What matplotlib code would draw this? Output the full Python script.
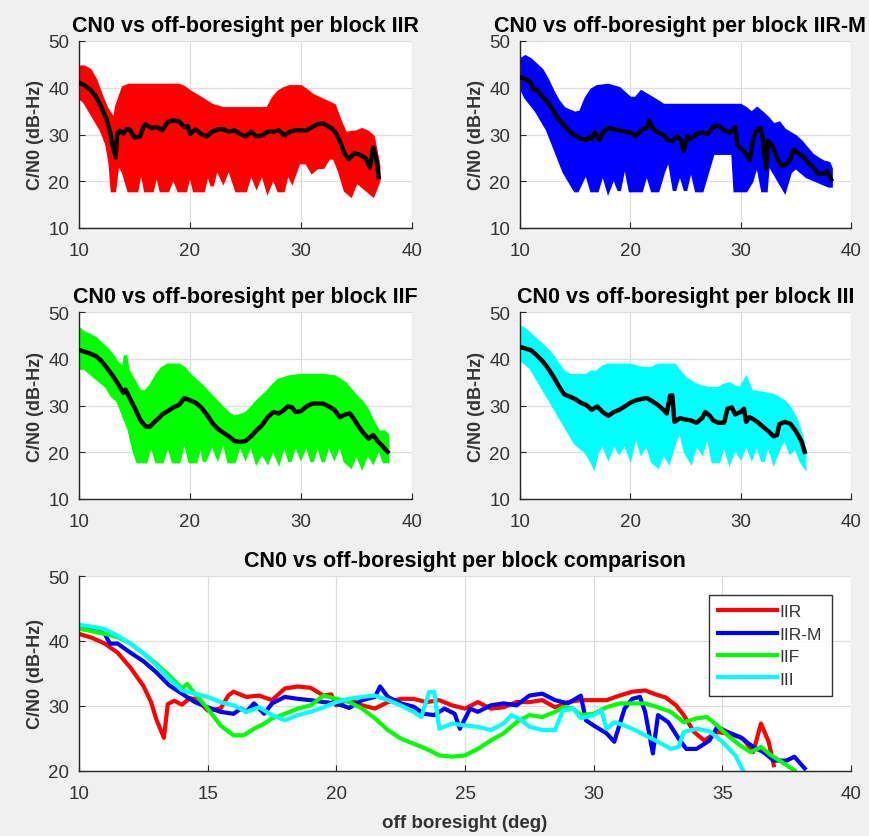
import matplotlib
matplotlib.use("Agg")
import matplotlib.pyplot as plt
import numpy as np

plt.rcParams['font.family'] = ['Liberation Sans', 'DejaVu Sans']

# ---------------- data ----------------
blocks = ["IIR", "IIR-M", "IIF", "III"]
colors = ["#ff0000", "#0000ff", "#00ff00", "#00ffff"]

# mean C/N0 curves (black lines / comparison lines)
iir_x = [10.0, 10.5, 11.0, 11.5, 12.0, 12.5, 12.8, 13.0, 13.3, 13.45, 13.7, 14.0, 14.3, 14.6, 15.0, 15.5, 15.8, 16.0, 16.5, 17.0,
         17.5, 18.0, 18.5, 19.0, 19.5, 19.8, 20.0, 20.5, 21.0, 21.5, 22.0, 22.5, 23.0, 23.5, 24.0, 24.5, 25.0, 25.5, 26.0, 26.5,
         27.0, 27.5, 28.0, 28.5, 29.0, 29.5, 30.0, 30.5, 31.0, 31.5, 32.0, 32.4, 32.8, 33.2, 33.5, 33.9, 34.3, 34.8, 35.3, 35.8,
         36.2, 36.5, 36.8, 37.0]
iir_y = [41.1, 40.5, 39.6, 38.2, 35.9, 33.1, 30.6, 28.0, 25.1, 30.3, 30.8, 30.2, 31.2, 31.0, 29.3, 29.6, 31.6, 32.2, 31.4, 31.6,
         30.9, 32.7, 33.0, 32.8, 31.6, 31.8, 30.1, 31.1, 30.1, 29.6, 30.6, 31.1, 31.1, 30.6, 30.9, 30.1, 29.6, 30.6, 29.6, 29.8,
         30.6, 30.6, 30.9, 29.8, 30.6, 30.9, 30.9, 30.9, 31.6, 32.2, 32.4, 31.8, 31.3, 30.1, 28.6, 26.0, 24.7, 26.0, 25.7, 25.0,
         22.9, 27.3, 24.5, 20.9]

iirm_x = [10.0, 10.5, 11.0, 11.2, 11.5, 12.0, 12.5, 13.0, 13.5, 14.0, 14.5, 15.0, 15.5, 16.0, 16.3, 16.5, 16.8, 17.2, 17.5, 18.0,
          18.5, 19.0, 19.5, 20.0, 20.5, 21.0, 21.5, 21.7, 22.0, 22.5, 23.0, 23.4, 23.8, 24.2, 24.6, 24.8, 25.2, 25.5, 26.0, 26.5,
          27.0, 27.5, 28.0, 28.5, 29.0, 29.5, 29.7, 30.0, 30.5, 30.8, 31.2, 31.5, 31.8, 32.0, 32.3, 32.5, 32.9, 33.3, 33.6, 34.0,
          34.5, 34.8, 35.2, 35.7, 36.2, 36.6, 37.0, 37.5, 37.8, 38.2]
iirm_y = [42.2, 41.9, 41.1, 39.6, 39.6, 38.2, 36.9, 35.2, 33.2, 31.9, 30.6, 29.8, 29.1, 28.8, 29.6, 29.1, 30.4, 28.8, 30.4, 31.4,
          31.1, 30.9, 30.6, 30.4, 29.7, 30.9, 31.4, 33.0, 31.4, 30.4, 29.9, 28.8, 28.6, 29.6, 28.8, 26.5, 29.6, 29.1, 30.1, 30.4,
          30.1, 31.6, 31.9, 30.9, 30.4, 31.6, 27.8, 27.0, 25.8, 24.5, 29.6, 31.1, 31.4, 29.1, 22.7, 28.6, 27.5, 25.0, 23.4, 23.4,
          24.7, 26.8, 26.0, 25.2, 23.7, 22.9, 21.6, 21.6, 22.2, 20.4]

iif_x = [10.0, 10.5, 11.0, 11.5, 12.0, 12.5, 13.0, 13.5, 14.0, 14.2, 14.5, 15.0, 15.5, 16.0, 16.4, 16.8, 17.2, 17.5, 18.0, 18.5,
         19.0, 19.5, 20.0, 20.5, 21.0, 21.5, 22.0, 22.5, 23.0, 23.5, 24.0, 24.5, 25.0, 25.5, 26.0, 26.5, 27.0, 27.5, 28.0, 28.5,
         28.8, 29.2, 29.5, 30.0, 30.5, 31.0, 31.5, 32.0, 32.5, 33.0, 33.5, 34.0, 34.4, 34.8, 35.2, 35.7, 36.1, 36.5, 36.9, 37.3,
         37.8]
iif_y = [41.9, 41.5, 41.1, 40.6, 39.6, 38.1, 36.5, 34.7, 32.7, 33.4, 31.9, 29.6, 27.0, 25.5, 25.5, 26.5, 27.3, 28.1, 28.8, 29.6,
         30.1, 31.6, 31.1, 30.6, 29.6, 28.1, 26.3, 25.0, 24.2, 23.4, 22.4, 22.2, 22.4, 23.4, 24.7, 25.8, 27.5, 28.6, 28.3, 29.1,
         29.8, 29.6, 28.6, 28.8, 29.8, 30.4, 30.4, 30.4, 29.8, 29.1, 27.5, 28.1, 28.3, 27.0, 25.5, 23.9, 22.9, 23.7, 22.4, 21.4,
         20.1]

iii_x = [10.0, 10.5, 11.0, 11.5, 12.0, 12.5, 13.0, 13.5, 14.0, 14.5, 15.0, 15.5, 16.0, 16.5, 17.0, 17.5, 18.0, 18.5, 19.0, 19.5,
         20.0, 20.5, 21.0, 21.5, 22.0, 22.5, 23.0, 23.3, 23.6, 23.8, 24.0, 24.5, 25.0, 25.5, 26.0, 26.5, 26.8, 27.2, 27.5, 28.0,
         28.5, 28.8, 29.2, 29.5, 30.0, 30.3, 30.5, 30.8, 31.2, 31.6, 32.0, 32.5, 33.0, 33.3, 33.5, 34.0, 34.5, 35.0, 35.5, 35.8]
iii_y = [42.5, 42.2, 41.8, 40.8, 39.6, 38.1, 36.3, 34.2, 32.4, 31.9, 31.4, 30.6, 30.1, 29.1, 29.8, 28.6, 27.8, 28.6, 29.1, 29.8,
         30.6, 31.1, 31.4, 31.6, 30.9, 30.1, 29.1, 28.3, 32.1, 32.2, 26.5, 27.3, 27.0, 26.8, 26.3, 27.3, 28.6, 27.8, 26.8, 26.3,
         26.3, 29.3, 29.6, 28.1, 28.6, 29.3, 26.5, 27.5, 27.0, 26.3, 25.5, 24.5, 23.4, 23.7, 26.0, 26.5, 26.1, 24.5, 22.4, 20.1]

# upper / lower edges of the per-sample scatter clouds
iir_up_x = [10, 10.5, 11, 11.5, 12, 12.5, 13, 13.2, 13.4, 13.7, 14.0, 14.5, 17, 18, 19, 19.5, 20, 21, 22, 23,
            27, 27.5, 28, 28.5, 29, 30, 30.5, 31, 32, 33, 33.5, 34, 35, 35.5, 36, 36.5, 37]
iir_up_y = [44.4, 44.4, 43.7, 41.6, 38.4, 35.5, 33.7, 33.0, 36.0, 38.0, 40.0, 40.5, 40.5, 40.5, 40.5, 40.0, 39.1, 37.7, 36.2, 35.5,
            35.5, 37.7, 39.1, 39.8, 40.2, 40.2, 39.4, 38.4, 37.3, 36.2, 33.0, 30.2, 30.5, 31.0, 30.5, 29.5, 23.4]
iir_lo_x = [10, 10.5, 11, 11.5, 12, 12.5, 12.8, 13.0, 13.2, 13.5, 14.0, 14.5, 15.2, 15.6, 16.0, 16.6, 17.0, 17.4, 18.0, 18.5,
            19.0, 19.6, 20.0, 20.4, 21.2, 21.6, 22.0, 22.4, 23.0, 23.5, 24.2, 25.0, 25.5, 26.0, 26.5, 27.0, 27.5, 28.0, 28.4, 28.8,
            29.2, 29.8, 30.5, 31.0, 31.5, 32.0, 32.5, 33.0, 33.5, 34.0, 34.5, 35.0, 35.5, 36.0, 36.5, 37.0]
iir_lo_y = [38, 37, 35, 33, 31, 28, 24, 18, 18, 24, 22, 18, 18, 23, 18, 18, 22, 18, 18, 21,
            18, 18, 22, 18, 18, 22, 19, 23, 20, 23, 18, 18, 22, 19, 22, 18, 21, 18, 18, 22,
            20, 24, 24, 22, 23, 23, 25, 25, 22, 18, 17, 20, 19, 18, 17, 20]

iirm_up_x = [10, 10.5, 11, 11.5, 12, 12.5, 13, 13.5, 14, 15, 15.5, 16, 16.5, 17, 18, 19, 20, 20.5, 21, 21.5,
             22, 22.5, 23, 30, 30.5, 31, 31.5, 32, 32.5, 33, 33.5, 34, 35, 35.5, 36, 36.5, 37, 37.5, 38, 38.2]
iirm_up_y = [45.9, 46.6, 45.9, 44.8, 43.7, 41.6, 39.1, 37.0, 35.5, 34.5, 34.8, 37.7, 39.5, 40.2, 40.5, 39.8, 37.7, 37.7, 39.1, 38.4,
             37.7, 37.0, 36.2, 36.2, 35.5, 34.5, 35.5, 34.5, 33.4, 32.0, 32.4, 30.9, 29.5, 28.4, 27.0, 25.6, 24.8, 24.1, 23.8, 22.7]
iirm_lo_x = [10, 10.5, 11, 11.5, 12, 12.5, 13, 13.5, 14, 14.5, 15, 15.2, 16, 16.5, 17, 17.5, 18, 18.5, 19, 19.5,
             20, 21, 21.5, 22, 22.5, 23, 23.5, 24, 24.5, 25, 25.5, 26, 26.5, 27, 27.5, 29.3, 29.5, 30.5, 31, 31.5,
             32, 32.3, 32.5, 33, 33.5, 34, 34.5, 35, 35.5, 36, 37, 38, 38.2]
iirm_lo_y = [40.5, 38, 36.5, 35, 33, 31, 28, 25, 22, 20, 18, 18, 22, 18, 18, 22, 18, 21, 18, 24,
             18, 18, 22, 18, 18, 22, 25, 18, 22, 18, 23, 18, 18, 22, 26, 26, 18, 18, 20, 24,
             18, 18, 24, 22, 20, 18, 22, 23, 22, 21, 20, 19, 19]

iif_up_x = [10, 10.5, 11, 11.5, 12, 12.5, 13, 13.5, 14, 14.2, 14.4, 15, 15.5, 16, 16.5, 17, 17.5, 18, 19, 19.5,
            20, 21, 22, 23, 23.5, 24, 24.5, 25, 25.5, 26, 26.5, 27, 27.5, 28, 29, 30, 32, 33, 33.5, 34,
            34.5, 35, 35.5, 36, 36.5, 37, 37.5, 37.8]
iif_up_y = [46.4, 45.4, 45.0, 44.3, 43.2, 42.1, 40.7, 38.9, 37.9, 40.7, 37.5, 35.0, 32.9, 32.9, 34.3, 36.4, 37.9, 38.6, 38.6, 37.9,
            36.4, 34.3, 31.8, 29.3, 28.2, 27.5, 27.8, 28.2, 29.3, 30.7, 31.8, 32.9, 34.3, 35.4, 36.1, 36.4, 36.4, 36.1, 35.4, 34.6,
            33.2, 31.8, 30.7, 28.9, 26.4, 24.3, 24.3, 23.6]
iif_lo_x = [10, 10.5, 11, 11.5, 12, 12.5, 13, 13.5, 14, 14.5, 15, 15.3, 16, 16.5, 17, 17.5, 18, 18.5, 19, 19.5,
            20, 20.5, 21, 21.3, 22, 22.5, 23, 23.5, 24, 24.5, 25, 25.5, 26, 26.5, 27, 27.5, 28, 28.5, 29, 29.5,
            30, 30.5, 31, 31.5, 32, 32.5, 33, 33.5, 34, 34.5, 35, 35.5, 36, 36.5, 37, 37.5, 37.8]
iif_lo_y = [38, 38, 37, 36, 35, 34, 32, 31, 28, 25, 20, 18, 18, 22, 18, 18, 22, 18, 18, 23,
            18, 18, 22, 18, 22, 19, 23, 18, 18, 22, 19, 22, 18, 20, 18, 21, 18, 22, 18, 22,
            19, 22, 18, 22, 18, 22, 19, 22, 18, 17, 20, 17, 20, 18, 21, 18, 18]

iii_up_x = [10, 10.5, 11, 11.5, 12, 12.5, 13, 13.5, 14, 14.5, 16, 16.5, 17, 17.5, 18, 20, 21, 22, 22.5, 24,
            24.5, 25, 25.5, 26, 27, 28, 28.5, 29, 29.5, 30, 30.5, 31, 32, 33, 33.5, 34, 34.5, 35, 35.5, 35.8]
iii_up_y = [46.8, 46.1, 45.0, 43.9, 42.9, 41.8, 40.4, 38.6, 37.1, 36.4, 36.4, 37.1, 37.1, 38.2, 38.6, 38.6, 37.9, 37.9, 38.6, 38.6,
            37.1, 35.7, 35.0, 34.3, 33.6, 33.6, 34.3, 34.6, 33.9, 33.6, 35.7, 32.9, 32.6, 32.1, 31.4, 30.7, 29.3, 27.1, 23.6, 20.7]
iii_lo_x = [10, 10.5, 11, 11.5, 12, 12.5, 13, 13.5, 14, 14.5, 15, 15.5, 16, 16.5, 16.7, 17, 17.5, 18, 18.5, 19,
            19.5, 20, 20.5, 21, 21.5, 22, 22.5, 23, 23.5, 24, 24.5, 25, 25.5, 26, 26.5, 27, 27.5, 28, 28.5, 29,
            29.5, 30, 30.5, 31, 31.5, 32, 32.5, 33, 33.5, 34, 34.5, 35, 35.5, 35.8]
iii_lo_y = [40, 39, 38, 36, 34, 32, 30, 28, 26, 24, 22, 21, 20, 18, 17, 20, 22, 19, 22, 20,
            22, 19, 24, 20, 22, 18, 17, 20, 18, 22, 25, 20, 18, 22, 20, 24, 18, 18, 22, 18,
            21, 19, 22, 19, 22, 18, 22, 18, 21, 23, 20, 21, 18, 17]

means = [(iir_x, iir_y), (iirm_x, iirm_y), (iif_x, iif_y), (iii_x, iii_y)]
clouds = [(iir_up_x, iir_up_y, iir_lo_x, iir_lo_y),
          (iirm_up_x, iirm_up_y, iirm_lo_x, iirm_lo_y),
          (iif_up_x, iif_up_y, iif_lo_x, iif_lo_y),
          (iii_up_x, iii_up_y, iii_lo_x, iii_lo_y)]

# ---------------- figure ----------------
W, H = 869, 837
fig = plt.figure(figsize=(W / 100, H / 100), dpi=100, facecolor="#f0f0f0")

def px_axes(left, top, right, bottom):
    return fig.add_axes([left / W, 1 - bottom / H, (right - left) / W, (bottom - top) / H])

TXT = "#333333"
AXC = "#262626"

def style(ax):
    ax.set_facecolor("white")
    for s in ["top", "right"]:
        ax.spines[s].set_visible(False)
    for s in ["left", "bottom"]:
        ax.spines[s].set_color(AXC)
        ax.spines[s].set_linewidth(1.0)
    ax.grid(True, color="#dedede", linewidth=0.9)
    ax.set_axisbelow(True)
    ax.tick_params(direction="in", length=4, colors=AXC, labelsize=13.5, labelcolor=TXT)
    ax.tick_params(axis="x", pad=10)
    ax.tick_params(axis="y", pad=7)
    ax.set_ylabel("C/N0 (dB-Hz)", fontsize=13, fontweight="bold", color=TXT, labelpad=3)

boxes = [(79, 42, 412, 229), (520, 42, 851, 229), (79, 313, 412, 500), (520, 313, 851, 500)]
for i, b in enumerate(boxes):
    ax = px_axes(*b)
    style(ax)
    ux, uy, lx, ly = clouds[i]
    px = np.concatenate([ux, lx[::-1]])
    py = np.concatenate([uy, ly[::-1]])
    ax.fill(px, py, facecolor=colors[i], edgecolor=colors[i], linewidth=2.5, zorder=2)
    mx, my = means[i]
    ax.plot(mx, my, color="black", linewidth=3.2, zorder=3)
    ax.set_xlim(10, 40)
    ax.set_ylim(10, 50)
    ax.set_xticks([10, 20, 30, 40])
    ax.set_yticks([10, 20, 30, 40, 50])
    title = "CN0 vs off-boresight per block " + blocks[i]
    if i == 1:
        # the long title runs up to the right edge of the figure
        right_edge = (866 - b[0]) / (b[2] - b[0])
        ax.set_title(title, fontsize=15.5, fontweight="bold", color="black", pad=7,
                     x=right_edge, ha="right")
    else:
        ax.set_title(title, fontsize=15.5, fontweight="bold", color="black", pad=7)

ax = px_axes(79, 577, 851, 772)
style(ax)
for i in range(4):
    mx, my = means[i]
    ax.plot(mx, my, color=colors[i], linewidth=3.0, label=blocks[i])
ax.set_xlim(10, 40)
ax.set_ylim(20, 50)
ax.set_xticks([10, 15, 20, 25, 30, 35, 40])
ax.set_yticks([20, 30, 40, 50])
ax.set_title("CN0 vs off-boresight per block comparison", fontsize=15.5,
             fontweight="bold", color="black", pad=7)
ax.set_xlabel("off boresight (deg)", fontsize=13.5, fontweight="bold", color=TXT, labelpad=9)
leg = ax.legend(loc="upper right", bbox_to_anchor=(0.975, 0.905), fontsize=12.5,
                frameon=True, fancybox=False, handlelength=3.4, handletextpad=0.15,
                labelspacing=0.42, borderpad=0.55, borderaxespad=0)
leg.get_frame().set_edgecolor("black")
leg.get_frame().set_linewidth(1.0)
for t in leg.get_texts():
    t.set_color(TXT)

fig.savefig("out.png", dpi=100, facecolor=fig.get_facecolor())
